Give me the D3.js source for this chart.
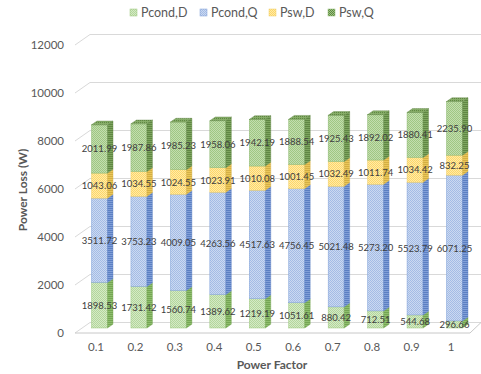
<!DOCTYPE html>
<html>
<head>
<meta charset="utf-8">
<script src="https://cdn.jsdelivr.net/npm/d3@7"></script>
<style>
  html, body { margin: 0; padding: 0; background: #fff; }
  svg { display: block; font-family: Lato, "Open Sans", sans-serif; }
</style>
</head>
<body>
<svg id="chart" width="481" height="374"></svg>
<script>
// Power loss breakdown per power factor
const categories = ["0.1", "0.2", "0.3", "0.4", "0.5", "0.6", "0.7", "0.8", "0.9", "1"];
const seriesNames = ["Pcond,D", "Pcond,Q", "Psw,D", "Psw,Q"];
const pcondD = [1898.53, 1731.42, 1560.74, 1389.62, 1219.19, 1051.61, 880.42, 712.51, 544.68, 296.66];
const pcondQ = [3511.72, 3753.23, 4009.05, 4263.56, 4517.63, 4756.45, 5021.48, 5273.20, 5523.79, 6071.25];
const pswD   = [1043.06, 1034.55, 1024.55, 1023.91, 1010.08, 1001.45, 1032.49, 1011.74, 1034.42, 832.25];
const pswQ   = [2011.99, 1987.86, 1985.23, 1958.06, 1942.19, 1888.54, 1925.43, 1892.02, 1880.41, 2235.90];
const yTicks = [0, 2000, 4000, 6000, 8000, 10000, 12000];

const seriesValues = [pcondD, pcondQ, pswD, pswQ];

const svg = d3.select("#chart");
const textColor = "#595959";

// 3D geometry: front plane, back wall offset, bar depth offset
const wallDx = 15, wallDy = -10.5;
const barShiftX = 3.5, barShiftY = -5;
const barDx = 5.5, barDy = -3.8;
const barW = 16;

const x = d3.scalePoint().domain(categories).range([96, 451]);
const y = d3.scaleLinear().domain([0, 12000]).range([333, 45]);

// Fill styles per series
const styles = [
  { base: "#d4eac6", dot: "#b4d69c", side: "#8fbf6e", stripe: "#74a553", top: "#b5d69c", edge: "#9cc77e" },
  { base: "#cbd9f1", dot: "#a4bce5", side: "#819fd8", stripe: "#5b7fc2", top: "#a9bfe6", edge: "#7f9fd8" },
  { base: "#ffeaa8", dot: "#fdd769", side: "#ebc75a", stripe: "#d3ae43", top: "#f5d77a", edge: "#efcf6a" },
  { base: "#c3ddaf", dot: "#9fc783", side: "#7ea660", stripe: "#5f8643", top: "#86ad68", edge: "#8db872" }
];

const defs = svg.append("defs");
styles.forEach((s, i) => {
  // front: fine checker texture
  const pf = defs.append("pattern").attr("id", "front" + i)
    .attr("patternUnits", "userSpaceOnUse").attr("width", 2).attr("height", 2);
  pf.append("rect").attr("width", 2).attr("height", 2).attr("fill", s.base);
  pf.append("rect").attr("width", 1).attr("height", 1).attr("fill", s.dot);
  pf.append("rect").attr("x", 1).attr("y", 1).attr("width", 1).attr("height", 1).attr("fill", s.dot);
  // side: horizontal stripes
  const ps = defs.append("pattern").attr("id", "side" + i)
    .attr("patternUnits", "userSpaceOnUse").attr("width", 2).attr("height", 2);
  ps.append("rect").attr("width", 2).attr("height", 2).attr("fill", s.side);
  ps.append("rect").attr("width", 2).attr("height", 1).attr("fill", s.stripe);
  // top
  const pt = defs.append("pattern").attr("id", "top" + i)
    .attr("patternUnits", "userSpaceOnUse").attr("width", 2).attr("height", 2);
  pt.append("rect").attr("width", 2).attr("height", 2).attr("fill", s.top);
  pt.append("rect").attr("width", 1).attr("height", 1).attr("fill", s.stripe);
});
styles.forEach((s, i) => {
  const pl = defs.append("pattern").attr("id", "leg" + i)
    .attr("patternUnits", "userSpaceOnUse").attr("width", 2).attr("height", 2);
  pl.append("rect").attr("width", 2).attr("height", 2).attr("fill", i === 3 ? s.dot : s.base);
  pl.append("rect").attr("width", 1).attr("height", 1).attr("fill", i === 3 ? s.stripe : s.dot);
  pl.append("rect").attr("x", 1).attr("y", 1).attr("width", 1).attr("height", 1).attr("fill", i === 3 ? s.stripe : s.dot);
});

// Walls: gridlines on the side wall and the back wall
const wall = svg.append("g");
const x0 = 75, xRight = 481;
yTicks.forEach(t => {
  const yf = y(t);
  wall.append("path")
    .attr("d", `M${x0},${yf}L${x0 + wallDx},${yf + wallDy}L${xRight},${yf + wallDy}`)
    .attr("fill", "none").attr("stroke", "#d9d9d9").attr("stroke-width", 1);
});
// Floor front edge
wall.append("path")
  .attr("d", `M${x0},${y(0)}L470,${y(0)}L${470 + 11},${y(0) + wallDy}`)
  .attr("fill", "none").attr("stroke", "#c8c8c8").attr("stroke-width", 1);

// Stacked bars
const stack = d3.stack().keys(d3.range(4))
  .value((d, k) => seriesValues[k][d])(d3.range(categories.length));

const bars = svg.append("g");
categories.forEach((c, ci) => {
  const cx = x(c) + barShiftX;
  const xl = cx - barW / 2, xr = cx + barW / 2;
  const g = bars.append("g");
  stack.forEach((layer, k) => {
    const [v0, v1] = layer[ci];
    const yb = y(v0) + barShiftY, yt = y(v1) + barShiftY;
    g.append("rect").attr("x", xl).attr("y", yt).attr("width", barW).attr("height", yb - yt)
      .attr("fill", `url(#front${k})`).attr("stroke", styles[k].edge).attr("stroke-width", 0.5);
    g.append("path")
      .attr("d", `M${xr},${yt}L${xr + barDx},${yt + barDy}L${xr + barDx},${yb + barDy}L${xr},${yb}Z`)
      .attr("fill", `url(#side${k})`).attr("stroke", styles[k].stripe).attr("stroke-width", 0.4);
    if (k === 3) {
      g.append("path")
        .attr("d", `M${xl},${yt}L${xr},${yt}L${xr + barDx},${yt + barDy}L${xl + barDx},${yt + barDy}Z`)
        .attr("fill", `url(#top${k})`).attr("stroke", styles[k].stripe).attr("stroke-width", 0.4);
    }
  });
});

// Value labels
const labels = svg.append("g")
  .attr("font-size", 9.5).attr("fill", "#404040").attr("text-anchor", "middle");
categories.forEach((c, ci) => {
  const cx = x(c) + barShiftX;
  stack.forEach((layer, k) => {
    const [v0, v1] = layer[ci];
    const ym = (y(v0) + y(v1)) / 2 + barShiftY;
    labels.append("text").attr("x", cx).attr("y", ym + 3.5)
      .text(seriesValues[k][ci].toFixed(2));
  });
});

// Value axis labels
const yAxis = svg.append("g").attr("font-size", 11.5).attr("fill", textColor).attr("text-anchor", "end");
yTicks.forEach(t => {
  yAxis.append("text").attr("x", 64).attr("y", y(t) + 4).text(t);
});

// Category axis labels
const xAxis = svg.append("g").attr("font-size", 11.5).attr("fill", textColor).attr("text-anchor", "middle");
categories.forEach(c => {
  xAxis.append("text").attr("x", x(c)).attr("y", 351).text(c);
});

// Axis titles
svg.append("text").attr("x", 272).attr("y", 369).attr("text-anchor", "middle")
  .attr("font-size", 12).attr("font-weight", "bold").attr("fill", textColor).text("Power Factor");
svg.append("text").attr("transform", "translate(27,190) rotate(-90)").attr("text-anchor", "middle")
  .attr("font-size", 12).attr("font-weight", "bold").attr("fill", textColor).text("Power Loss (W)");

// Legend
const legendX = [130, 200, 269, 328];
const legend = svg.append("g").attr("font-size", 12.5).attr("fill", textColor);
seriesNames.forEach((n, i) => {
  legend.append("rect").attr("x", legendX[i]).attr("y", 9).attr("width", 7).attr("height", 7)
    .attr("fill", `url(#leg${i})`).attr("stroke", styles[i].edge).attr("stroke-width", 0.5);
  legend.append("text").attr("x", legendX[i] + 11).attr("y", 17).text(n);
});
</script>
</body>
</html>
